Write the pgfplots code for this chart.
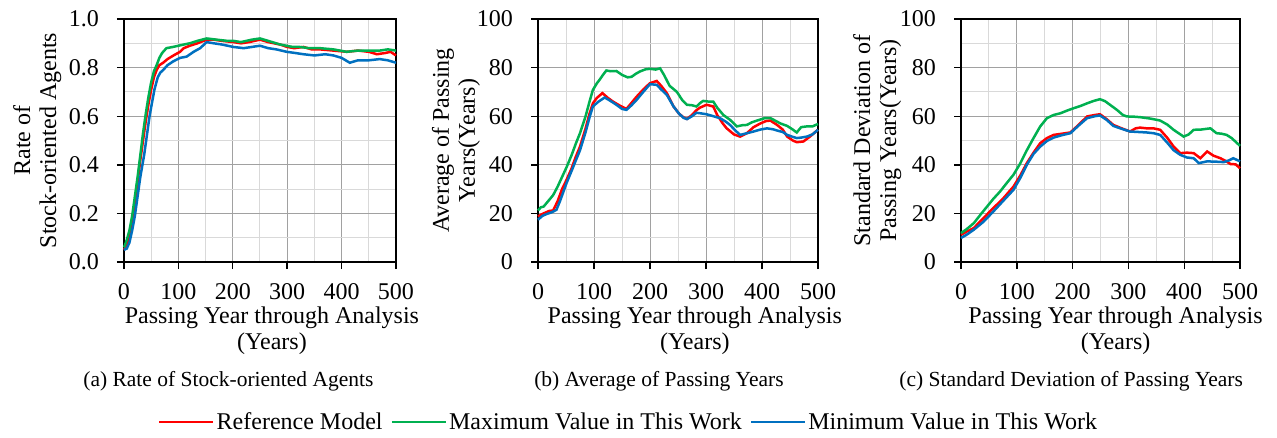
\documentclass[border=0pt]{standalone}
\usepackage{fontspec}
\setmainfont{Liberation Serif}
\usepackage{pgfplots}
\pgfplotsset{compat=1.18}
\definecolor{cRed}{RGB}{255,0,0}
\definecolor{cGreen}{RGB}{0,176,80}
\definecolor{cBlue}{RGB}{0,112,192}
\pgfplotsset{
  panel/.style={
    scale only axis, height=243pt, anchor=south west,
    xmin=0, xmax=500, xtick={0,100,...,500}, minor x tick num=1,
    minor y tick num=1,
    grid=both,
    major grid style={draw=black!37, line width=1pt},
    minor grid style={draw=black!15, line width=1pt},
    axis line style={line width=1.4pt},
    tick align=outside, major tick length=7pt, minor tick length=0pt,
    every tick/.style={black, line width=1.4pt},
    xtick pos=bottom, ytick pos=left,
    /pgf/number format/assume math mode=true,
    ticklabel style={font=\fontsize{24}{24}\selectfont, inner sep=0pt},
    xticklabel style={anchor=north, yshift=-14pt},
    yticklabel style={anchor=east, xshift=-18pt},
    label style={font=\fontsize{24}{26}\selectfont, align=center, inner sep=0pt},
    xlabel style={anchor=north},
    ylabel style={anchor=north},
    xlabel={Passing Year through Analysis\\(Years)},
    every axis plot/.append style={line width=2.5pt, mark=none},
    clip=false,
  }
}
\begin{document}
\begin{tikzpicture}
\path[use as bounding box] (0,0) rectangle (1277pt,437pt);
% ---------------- (a)
\begin{axis}[panel, at={(124pt,175pt)}, width=272pt,
  ymin=0, ymax=1, ytick={0,0.2,...,1.0},
  yticklabel style={/pgf/number format/.cd, fixed, fixed zerofill, precision=1},
  xlabel style={at={(axis description cs:0.544,-0.183)}},
  ylabel style={at={(axis description cs:-0.408,0.5)}},
  ylabel={Rate of\\Stock-oriented Agents},
  legend columns=3,
  legend image code/.code={\draw[#1, line width=2.5pt] (0pt,0pt) -- (54pt,0pt);},
  legend style={draw=none, fill=none, at={(axis description cs:0.125,-0.658)}, anchor=west,
    font=\fontsize{24}{24}\selectfont, inner sep=0pt,
    nodes={inner sep=2pt},
    /tikz/every even column/.append style={column sep=6pt}},
]
\addplot[cRed] coordinates {(0,0.05) (5,0.07) (10,0.11) (15,0.17) (20,0.24) (25,0.33) (30,0.42) (35,0.50) (40,0.58) (45,0.65) (50,0.71) (55,0.76) (60,0.79) (65,0.81) (72,0.82) (80,0.835) (91,0.85) (103,0.865) (110,0.88) (121,0.89) (135,0.90) (152,0.915) (165,0.915) (180,0.91) (201,0.905) (215,0.90) (230,0.905) (250,0.915) (265,0.905) (287,0.895) (300,0.885) (313,0.88) (330,0.885) (345,0.875) (360,0.875) (385,0.87) (410,0.865) (430,0.87) (450,0.865) (465,0.855) (480,0.86) (490,0.865) (500,0.85)};
\addlegendentry{Reference Model}
\addplot[cGreen] coordinates {(0,0.06) (5,0.09) (10,0.13) (15,0.19) (20,0.27) (25,0.35) (30,0.44) (35,0.53) (40,0.61) (45,0.68) (50,0.74) (55,0.785) (60,0.81) (65,0.84) (70,0.86) (78,0.88) (90,0.885) (100,0.89) (110,0.895) (121,0.90) (135,0.91) (152,0.92) (170,0.915) (190,0.91) (201,0.91) (215,0.905) (235,0.915) (250,0.92) (265,0.91) (287,0.895) (310,0.885) (323,0.885) (340,0.88) (360,0.88) (385,0.875) (409,0.865) (430,0.87) (450,0.87) (470,0.87) (485,0.875) (500,0.87)};
\addlegendentry{Maximum Value in This Work}
\addplot[cBlue] coordinates {(0,0.05) (5,0.055) (10,0.08) (15,0.13) (20,0.19) (25,0.27) (30,0.35) (37,0.44) (42,0.52) (47,0.60) (51,0.65) (56,0.71) (62,0.76) (67,0.78) (72,0.79) (80,0.81) (90,0.825) (103,0.84) (115,0.845) (128,0.865) (140,0.88) (152,0.905) (165,0.90) (180,0.895) (201,0.885) (220,0.88) (235,0.885) (250,0.89) (265,0.88) (280,0.875) (299,0.865) (315,0.86) (330,0.855) (350,0.85) (370,0.855) (385,0.85) (400,0.84) (415,0.82) (430,0.83) (450,0.83) (470,0.835) (485,0.83) (500,0.82)};
\addlegendentry{Minimum Value in This Work}
\node[anchor=base, font=\fontsize{21.5}{21.5}\selectfont, inner sep=0pt] at (axis description cs:0.384,-0.514) {(a) Rate of Stock-oriented Agents};
\end{axis}
% ---------------- (b)
\begin{axis}[panel, at={(538pt,175pt)}, width=280pt,
  ymin=0, ymax=100, ytick={0,20,...,100},
  xlabel style={at={(axis description cs:0.56,-0.183)}},
  ylabel style={at={(axis description cs:-0.379,0.5)}},
  ylabel={Average of Passing\\Years(Years)},
]
\addplot[cRed] coordinates {(0,18.8) (10,20) (20,21) (27,21.2) (35,25) (43,30) (51,33.8) (60,38.5) (67,43) (75,47.5) (85,55) (92,61) (98,65.3) (105,67.5) (115,69.5) (125,67.5) (134,66) (145,64.5) (158,63) (167,65.5) (176,68) (188,71) (200,73.6) (212,74.5) (220,72.5) (230,69.5) (242,64) (252,61) (260,59.5) (266,58.9) (275,60.5) (283,62.5) (289,63.5) (301,64.7) (313,64) (320,60.5) (330,57) (337,55) (350,52.5) (361,51.6) (373,53) (385,55.5) (397,57) (407,58) (415,58.2) (427,56.4) (437,54.5) (445,51.6) (455,50) (462,49.3) (474,49.6) (485,51.5) (500,54.4)};
\addplot[cGreen] coordinates {(0,21.2) (5,22.5) (10,22.8) (18,25) (27,27.5) (35,31) (43,35) (51,39) (60,44) (68,49) (75,53) (85,60) (92,66) (98,70.8) (105,73.5) (110,75) (116,77) (122,78.8) (130,78.5) (140,78.6) (150,77) (160,76) (167,76.2) (175,77.5) (182,78.4) (192,79.3) (200,79.5) (210,79.2) (218,79.7) (225,77) (235,72.5) (248,70) (258,66.5) (266,64.7) (275,64.5) (283,64) (290,65.5) (295,66.3) (305,66) (313,66) (320,63.5) (331,60.5) (343,58.5) (355,55.8) (365,56.3) (373,56.4) (382,57.5) (391,58.2) (405,59.2) (415,59.2) (425,58) (433,57) (445,56) (455,54.5) (462,53.3) (470,55.5) (480,55.8) (490,55.8) (500,56.8)};
\addplot[cBlue] coordinates {(0,17.4) (8,19) (15,19.7) (25,20.5) (33,21.5) (40,25.5) (51,32.5) (60,37.5) (67,41.5) (75,46) (85,53.5) (92,59.5) (98,64) (108,66) (119,67.7) (128,66.5) (140,64.7) (150,63) (158,62.6) (167,64.5) (176,66.7) (188,70) (200,73.2) (212,72.9) (220,71) (230,68.8) (242,64) (252,61) (260,59.3) (266,58.8) (275,60) (283,61.4) (290,61.2) (301,60.8) (313,60) (325,59.2) (335,57.8) (343,56.4) (352,54.2) (361,52.3) (373,53) (385,53.7) (397,54.5) (409,55) (420,54.6) (427,54.1) (437,53.5) (445,52.3) (455,51.5) (462,51) (470,51.2) (480,51.6) (490,52.5) (500,54.4)};
\node[anchor=base, font=\fontsize{21.5}{21.5}\selectfont, inner sep=0pt] at (axis description cs:0.432,-0.514) {(b) Average of Passing Years};
\end{axis}
% ---------------- (c)
\begin{axis}[panel, at={(961pt,175pt)}, width=279pt,
  ymin=0, ymax=100, ytick={0,20,...,100},
  xlabel style={at={(axis description cs:0.554,-0.183)}},
  ylabel style={at={(axis description cs:-0.387,0.5)}},
  ylabel={Standard Deviation of\\Passing Years(Years)},
]
\addplot[cRed] coordinates {(0,11.2) (10,12.5) (23,14) (40,18) (58,22.2) (75,26) (94,31) (106,35.5) (118,40.7) (130,45) (142,48.9) (154,51) (166,52.3) (181,52.8) (196,53.3) (211,56.5) (226,59.9) (240,60.5) (249,60.8) (261,58.8) (273,56.4) (288,55) (303,53.7) (313,55) (321,55.3) (333,55) (345,55) (357,54.4) (370,51) (381,47.5) (393,44.8) (405,45) (417,44.8) (429,42.7) (441,45.5) (452,43.8) (465,42.7) (475,41.5) (483,40.3) (492,40.2) (500,38.6)};
\addplot[cGreen] coordinates {(0,11.9) (10,13.5) (23,16) (35,19.5) (47,22.9) (58,26) (70,29) (82,32.5) (94,35.9) (106,40.5) (118,46) (130,51) (142,55.8) (154,59.2) (166,60.5) (178,61.2) (190,62.3) (202,63.3) (214,64.2) (226,65.3) (238,66.3) (249,67) (258,66.2) (267,64.7) (280,62.5) (290,60.5) (297,59.9) (310,59.8) (321,59.6) (340,59) (357,58.2) (370,56.5) (381,54.4) (390,53) (399,51.6) (408,52.5) (417,54.4) (430,54.5) (440,54.8) (447,55) (458,53) (467,52.8) (476,52.3) (485,51) (492,49.5) (500,47.8)};
\addplot[cBlue] coordinates {(0,9.9) (10,11.2) (23,13.3) (40,16.5) (58,20.8) (75,25) (94,29.7) (106,34.5) (118,40) (130,44.5) (142,47.5) (154,49.8) (166,51.2) (181,52.2) (196,53) (211,56.2) (226,59.2) (240,60) (249,60.3) (261,58.5) (273,56) (288,54.8) (303,53.7) (318,53.5) (333,53.3) (345,53) (357,52.3) (370,49) (381,46) (393,44.1) (405,43) (417,42.7) (426,40.7) (441,41.4) (456,41.3) (471,41.1) (480,41.8) (488,42.7) (500,41.4)};
\node[anchor=base, font=\fontsize{21.5}{21.5}\selectfont, inner sep=0pt] at (axis description cs:0.395,-0.514) {(c) Standard Deviation of Passing Years};
\end{axis}
\end{tikzpicture}
\end{document}
